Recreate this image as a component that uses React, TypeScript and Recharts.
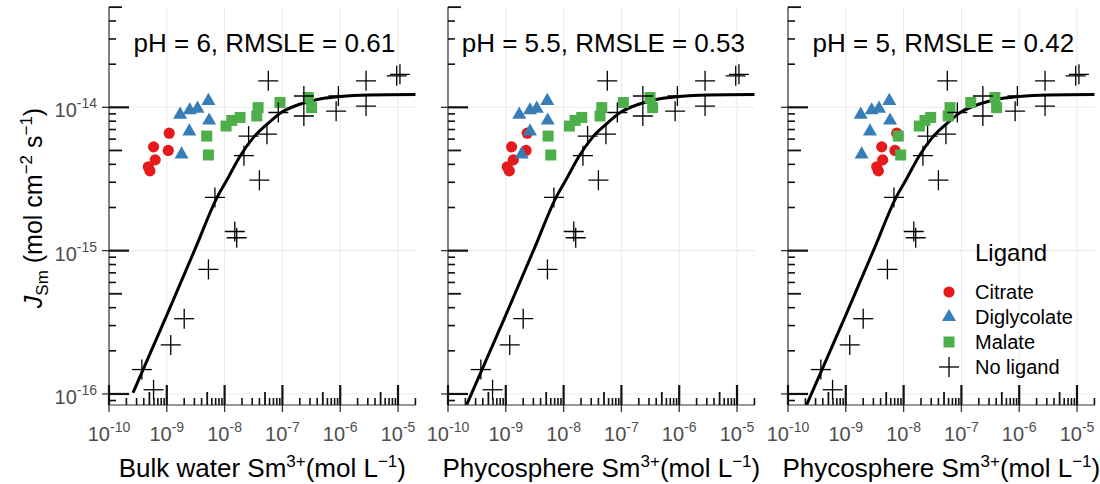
import React from 'react';
import { ComposedChart, Scatter, Line, XAxis, YAxis, ReferenceLine, Legend } from 'recharts';

// Sm uptake flux (mol cm-2 s-1) against Sm3+ concentration (mol L-1)
const noLigandConc = [1.08e-5, 9.5e-6, 2.8e-6, 2.8e-6, 9.3e-7, 8.5e-7, 2.35e-7, 2.35e-7, 8.5e-8, 5.7e-8, 5.4e-8, 2.6e-8, 2.16e-8, 4.0e-8, 6.8e-9, 1.5e-8, 1.62e-8, 5.25e-9, 2.0e-9, 1.17e-9, 3.7e-10, 5.9e-10];
const noLigandFlux = [1.7e-14, 1.66e-14, 1.53e-14, 1.02e-14, 1.2e-14, 9.4e-15, 1.2e-14, 8.7e-15, 9.2e-15, 1.53e-14, 6.5e-15, 6.3e-15, 4.6e-15, 3.1e-15, 2.35e-15, 1.36e-15, 1.23e-15, 7.4e-16, 3.35e-16, 2.2e-16, 1.48e-16, 1.07e-16];

const citrateFlux = [3.85e-15, 3.6e-15, 4.3e-15, 5.3e-15, 5.0e-15, 6.6e-15];
const citrateBulk = [4.8e-10, 5.1e-10, 6.3e-10, 5.9e-10, 1.06e-9, 1.1e-9];
const citratePhyco55 = [1.06e-9, 1.15e-9, 1.35e-9, 1.26e-9, 2.24e-9, 2.35e-9];
const citratePhyco5 = [3.43e-9, 3.66e-9, 4.35e-9, 4.18e-9, 7.1e-9, 7.6e-9];

const diglycolateFlux = [8.9e-15, 9.55e-15, 9.8e-15, 1.11e-14, 8.1e-15, 6.8e-15, 4.7e-15];
const diglycolateBulk = [1.7e-9, 2.5e-9, 3.4e-9, 5.25e-9, 5.4e-9, 2.45e-9, 1.8e-9];
const diglycolatePhyco55 = [1.71e-9, 2.62e-9, 3.43e-9, 5.22e-9, 5.3e-9, 2.62e-9, 1.88e-9];
const diglycolatePhyco5 = [1.81e-9, 2.8e-9, 3.75e-9, 5.66e-9, 5.82e-9, 2.62e-9, 1.88e-9];

const malateFlux = [6.3e-15, 4.65e-15, 7.4e-15, 8.1e-15, 8.5e-15, 8.7e-15, 9.95e-15, 1.08e-14, 1.17e-14, 9.95e-15];
const malateBulk = [4.9e-9, 5.25e-9, 1.06e-8, 1.33e-8, 1.85e-8, 3.6e-8, 3.8e-8, 9.1e-8, 2.8e-7, 3.2e-7];
const malatePhyco55 = [5.4e-9, 6.0e-9, 1.26e-8, 1.58e-8, 2.06e-8, 4.27e-8, 4.57e-8, 1.08e-7, 3.13e-7, 3.47e-7];
const malatePhyco5 = [8.1e-9, 8.9e-9, 1.87e-8, 2.34e-8, 2.94e-8, 5.9e-8, 6.35e-8, 1.45e-7, 3.81e-7, 4.07e-7];

// fitted model line
const modelConc = [1e-9, 3.16e-9, 7.2e-9, 1.12e-8, 1.86e-8, 3.16e-8, 5.4e-8, 1e-7, 2e-7, 4e-7, 1e-6, 3.16e-6, 2.02e-5];
const modelFlux = [3.55e-16, 1.05e-15, 2.3e-15, 3.16e-15, 4.57e-15, 6.17e-15, 7.6e-15, 9.3e-15, 1.05e-14, 1.135e-14, 1.19e-14, 1.22e-14, 1.23e-14];
const modelStartBulk = [2.6e-10, 1.02e-16];
const modelStartPhyco = [2.1e-10, 8.4e-17];

const panelTitles = ['pH = 6, RMSLE = 0.61', 'pH = 5.5, RMSLE = 0.53', 'pH = 5, RMSLE = 0.42'];
const panelXTitles = ['Bulk water', 'Phycosphere', 'Phycosphere'];
const xDecades = [-10, -9, -8, -7, -6, -5];
const yDecades = [-16, -15, -14];

const X_MIN = -10;
const X_MAX = -4.694;
const Y_MIN = -16.077;
const Y_MAX = -13.3;

const RED = '#E41A1C';
const BLUE = '#377EB8';
const GREEN = '#4DAF4A';
const AXIS = '#333333';
const FONT = '"Liberation Sans", Arial, Helvetica, sans-serif';

const toPoints = (xs: number[], ys: number[]) =>
  xs.map((x, i) => ({ x: Math.log10(x), y: Math.log10(ys[i]) }));

const logTicks = (min: number, max: number) => {
  const out: number[] = [];
  for (let d = Math.floor(min) - 1; d <= Math.ceil(max); d++) {
    for (let k = 1; k <= 9; k++) {
      const v = d + Math.log10(k);
      if (v >= min - 1e-9 && v <= max + 1e-9) out.push(v);
    }
  }
  return out;
};
const xTicks = logTicks(X_MIN, X_MAX);
const yTicks = logTicks(Y_MIN, Y_MAX);

const tickKind = (v: number) => {
  const d = Math.floor(v + 1e-6);
  const k = Math.round(Math.pow(10, v - d));
  return k === 1 || k === 10 ? 'major' : k === 5 ? 'mid' : 'minor';
};
const tickLen: Record<string, number> = { major: 20, mid: 13, minor: 7 };
const tickWidth: Record<string, number> = { major: 2.2, mid: 1.8, minor: 1.6 };

const XTick = (props: any) => {
  const { x, y, payload } = props;
  const kind = tickKind(payload.value);
  return (
    <g>
      <line x1={x} x2={x} y1={y} y2={y - tickLen[kind]} stroke="#111" strokeWidth={tickWidth[kind]} />
      {kind === 'major' && (
        <>
          <line x1={x} x2={x} y1={y} y2={y + 7} stroke={AXIS} strokeWidth={1.3} />
          <text x={x} y={y + 36} textAnchor="middle" fill="#4D4D4D" fontSize={20} fontFamily={FONT}>
            10<tspan dy={-9} fontSize={14}>{String(Math.round(payload.value))}</tspan>
          </text>
        </>
      )}
    </g>
  );
};

const makeYTick = (showLabel: boolean) => (props: any) => {
  const { x, y, payload } = props;
  const kind = tickKind(payload.value);
  return (
    <g>
      <line x1={x} x2={x + tickLen[kind]} y1={y} y2={y} stroke="#111" strokeWidth={tickWidth[kind]} />
      {kind === 'major' && (
        <>
          <line x1={x - 7} x2={x} y1={y} y2={y} stroke={AXIS} strokeWidth={1.3} />
          {showLabel && (
            <text x={x - 12} y={y + 10} textAnchor="end" fill="#4D4D4D" fontSize={20} fontFamily={FONT}>
              10<tspan dy={-9} fontSize={14}>{String(Math.round(payload.value))}</tspan>
            </text>
          )}
        </>
      )}
    </g>
  );
};

const Circle = (p: any) => <circle cx={p.cx} cy={p.cy} r={5.6} fill={RED} />;
const Triangle = (p: any) => (
  <polygon points={`${p.cx},${p.cy - 8} ${p.cx - 7},${p.cy + 4.1} ${p.cx + 7},${p.cy + 4.1}`} fill={BLUE} />
);
const Square = (p: any) => <rect x={p.cx - 5.5} y={p.cy - 5.5} width={11} height={11} fill={GREEN} />;
const Plus = (p: any) => (
  <g stroke="#000" strokeWidth={1.3}>
    <line x1={p.cx - 10} x2={p.cx + 10} y1={p.cy} y2={p.cy} />
    <line x1={p.cx} x2={p.cx} y1={p.cy - 10} y2={p.cy + 10} />
  </g>
);

const legendItems = [
  { name: 'Citrate', icon: Circle },
  { name: 'Diglycolate', icon: Triangle },
  { name: 'Malate', icon: Square },
  { name: 'No ligand', icon: Plus },
];

const LegendBox = () => (
  <svg width={180} height={150} style={{ display: 'block' }}>
    <text x={55} y={31} fontSize={24} fontFamily={FONT} fill="#000">Ligand</text>
    {legendItems.map((it, i) => {
      const Icon = it.icon;
      return (
        <g key={it.name}>
          <Icon cx={29} cy={62 + i * 25} />
          <text x={55} y={69 + i * 25} fontSize={20} fontFamily={FONT} fill="#000">{it.name}</text>
        </g>
      );
    })}
  </svg>
);

interface PanelProps {
  left: number;
  width: number;
  yAxisWidth: number;
  marginRight: number;
  title: string;
  xTitle: string;
  citrate: number[];
  diglycolate: number[];
  malate: number[];
  modelStart: number[];
  yLabels: boolean;
  legend: boolean;
}

const Panel = (p: PanelProps) => {
  const plotLeft = p.yAxisWidth;
  const plotW = p.width - p.yAxisWidth - p.marginRight;
  const cx = plotLeft + plotW / 2;
  const model = toPoints([p.modelStart[0], ...modelConc], [p.modelStart[1], ...modelFlux]);
  return (
    <div style={{ position: 'absolute', left: p.left, top: 0 }}>
      <ComposedChart width={p.width} height={484} margin={{ top: 7, right: p.marginRight, bottom: 0, left: 0 }}>
        {xDecades.map((d) => (
          <ReferenceLine key={`gx${d}`} x={d} stroke="#EBEBEB" strokeWidth={1.1} />
        ))}
        {yDecades.map((d) => (
          <ReferenceLine key={`gy${d}`} y={d} stroke="#EBEBEB" strokeWidth={1.1} />
        ))}
        <XAxis
          type="number"
          dataKey="x"
          domain={[X_MIN, X_MAX]}
          allowDataOverflow
          ticks={xTicks}
          interval={0}
          tickSize={0}
          tickMargin={0}
          tickLine={false}
          height={79}
          axisLine={{ stroke: AXIS, strokeWidth: 1.2 }}
          tick={XTick}
          label={{
            content: () => (
              <g>
                <text x={cx + 2} y={52} textAnchor="middle" fontSize={26} fontFamily={FONT} fill="#000">
                  {p.title}
                </text>
                <text x={cx} y={477} textAnchor="middle" fontSize={26} fontFamily={FONT} fill="#000">
                  {p.xTitle} Sm<tspan dy={-10} fontSize={17}>3+</tspan>
                  <tspan dy={10}>(mol L</tspan>
                  <tspan dy={-10} fontSize={17}>−1</tspan>
                  <tspan dy={10}>)</tspan>
                </text>
              </g>
            ),
          }}
        />
        <XAxis
          xAxisId="top"
          orientation="top"
          type="number"
          domain={[X_MIN, X_MAX]}
          allowDataOverflow
          height={0}
          tick={false}
          tickLine={false}
          axisLine={{ stroke: AXIS, strokeWidth: 1.2 }}
        />
        <YAxis
          type="number"
          dataKey="y"
          domain={[Y_MIN, Y_MAX]}
          allowDataOverflow
          ticks={yTicks}
          interval={0}
          tickSize={0}
          tickMargin={0}
          tickLine={false}
          width={p.yAxisWidth}
          axisLine={{ stroke: AXIS, strokeWidth: 1.2 }}
          tick={makeYTick(p.yLabels)}
          label={
            p.yLabels
              ? {
                  content: () => (
                    <text transform="rotate(-90)" x={-208} y={42} textAnchor="middle" fontSize={25} fontFamily={FONT} fill="#000">
                      <tspan fontStyle="italic">J</tspan>
                      <tspan dy={6} fontSize={17}>Sm</tspan>
                      <tspan dy={-6}> (mol cm</tspan>
                      <tspan dy={-10} fontSize={17}>−2</tspan>
                      <tspan dy={10}> s</tspan>
                      <tspan dy={-10} fontSize={17}>−1</tspan>
                      <tspan dy={10}>)</tspan>
                    </text>
                  ),
                }
              : undefined
          }
        />
        <YAxis
          yAxisId="right"
          orientation="right"
          type="number"
          domain={[Y_MIN, Y_MAX]}
          allowDataOverflow
          width={0}
          tick={false}
          tickLine={false}
          axisLine={{ stroke: AXIS, strokeWidth: 1.2 }}
        />
        <Line data={model} dataKey="y" type="monotone" stroke="#000" strokeWidth={3} dot={false} isAnimationActive={false} />
        <Scatter data={toPoints(p.citrate, citrateFlux)} shape={Circle} isAnimationActive={false} />
        <Scatter data={toPoints(p.diglycolate, diglycolateFlux)} shape={Triangle} isAnimationActive={false} />
        <Scatter data={toPoints(p.malate, malateFlux)} shape={Square} isAnimationActive={false} />
        <Scatter data={toPoints(noLigandConc, noLigandFlux)} shape={Plus} isAnimationActive={false} />
        {p.legend && (
          <Legend
            layout="vertical"
            align="center"
            verticalAlign="middle"
            width={180}
            height={150}
            wrapperStyle={{ left: 160, top: 230, width: 180, height: 150 }}
            content={() => <LegendBox />}
          />
        )}
      </ComposedChart>
    </div>
  );
}

export default function App() {
  return (
    <div style={{ position: 'absolute', left: 0, top: 0, width: 1100, height: 484, background: '#fff' }}>
      <Panel left={0} width={430} yAxisWidth={109} marginRight={14.3} title={panelTitles[0]} xTitle={panelXTitles[0]}
        citrate={citrateBulk} diglycolate={diglycolateBulk} malate={malateBulk} modelStart={modelStartBulk} yLabels legend={false} />
      <Panel left={420} width={350} yAxisWidth={28} marginRight={15.3} title={panelTitles[1]} xTitle={panelXTitles[1]}
        citrate={citratePhyco55} diglycolate={diglycolatePhyco55} malate={malatePhyco55} modelStart={modelStartPhyco} yLabels={false} legend={false} />
      <Panel left={760} width={340} yAxisWidth={28} marginRight={5.3} title={panelTitles[2]} xTitle={panelXTitles[2]}
        citrate={citratePhyco5} diglycolate={diglycolatePhyco5} malate={malatePhyco5} modelStart={modelStartPhyco} yLabels={false} legend />
    </div>
  );
}
